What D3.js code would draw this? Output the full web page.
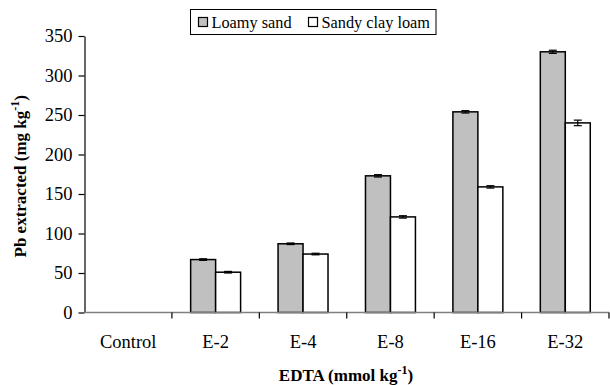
<!DOCTYPE html>
<html>
<head>
<meta charset="utf-8">
<script src="https://cdn.jsdelivr.net/npm/d3@7"></script>
<style>
    body { margin: 0; background: #fff; }
</style>
</head>
<body>
<svg id="main" width="610" height="385"></svg>
<script>
const width = 610;
const height = 385;
const position = {
    left: 84.5,
    top: 36,
    right: 1,
    bottom: 72
};
const FONT = '"Liberation Serif", "Times New Roman", Times, serif';

const categories = ['Control', 'E-2', 'E-4', 'E-8', 'E-16', 'E-32'];
const series = ['Loamy sand', 'Sandy clay loam'];
const loamySand = [0, 67, 87, 173, 254, 330];
const sandyClayLoam = [0, 51, 74, 121, 159, 240];
const loamySandErr = [0, 1, 1, 1.5, 1.5, 2];
const sandyClayLoamErr = [0, 1, 1, 1.5, 1.5, 3.5];
const yTicks = [0, 50, 100, 150, 200, 250, 300, 350];
const fills = ['#c0c0c0', '#ffffff'];

const data = [];
categories.forEach((c, i) => {
    data.push({ cat: c, s: series[0], v: loamySand[i], e: loamySandErr[i] });
    data.push({ cat: c, s: series[1], v: sandyClayLoam[i], e: sandyClayLoamErr[i] });
});

const svg = d3.select('#main').style('font-family', FONT);

const x = d3
    .scaleBand()
    .domain(categories)
    .range([position.left, width - position.right])
    .padding(0);
const xs = d3
    .scaleBand()
    .domain(series)
    .range([0, x.bandwidth()])
    .paddingInner(0)
    .paddingOuter(0.75);
const y = d3
    .scaleLinear()
    .domain([0, 350])
    .range([height - position.bottom - 0.5, position.top]);
const color = d3.scaleOrdinal().domain(series).range(fills);

// bars
svg.append('g')
    .selectAll('rect')
    .data(data.filter(d => d.v > 0))
    .join('rect')
    .attr('x', d => x(d.cat) + xs(d.s))
    .attr('y', d => y(d.v))
    .attr('width', xs.bandwidth())
    .attr('height', d => y(0) - y(d.v))
    .attr('fill', d => color(d.s))
    .attr('stroke', '#000')
    .attr('stroke-width', 1.5);

// error bars
const err = svg.append('g').attr('stroke', '#000').attr('stroke-width', 1.2);
data.filter(d => d.v > 0).forEach(d => {
    const cx = x(d.cat) + xs(d.s) + xs.bandwidth() / 2;
    err.append('line')
        .attr('x1', cx).attr('x2', cx)
        .attr('y1', y(d.v + d.e)).attr('y2', y(d.v - d.e));
    [d.v + d.e, d.v - d.e].forEach(v => {
        err.append('line')
            .attr('x1', cx - 4).attr('x2', cx + 4)
            .attr('y1', y(v)).attr('y2', y(v));
    });
});

// y axis
const yAxis = svg.append('g')
    .attr('transform', `translate(${position.left},0)`)
    .call(d3.axisLeft(y).tickValues(yTicks).tickSize(6).tickSizeOuter(0).tickPadding(6));
yAxis.attr('font-family', null).attr('font-size', null);
yAxis.select('.domain').attr('stroke', '#000').attr('stroke-width', 1.2);
yAxis.selectAll('.tick line').attr('stroke', '#000').attr('stroke-width', 1.2);
yAxis.selectAll('text')
    .style('font-family', FONT)
    .style('font-size', '18.5px')
    .attr('fill', '#000');

// x axis: gray line with ticks between categories
const bounds = categories.map(c => x(c)).concat([x(categories[categories.length - 1]) + x.bandwidth()]);
const xAxis = svg.append('g');
xAxis.append('line')
    .attr('x1', position.left).attr('x2', width - position.right)
    .attr('y1', y(0)).attr('y2', y(0))
    .attr('stroke', '#808080').attr('stroke-width', 1.5);
xAxis.selectAll('.xt')
    .data(bounds.slice(1))
    .join('line')
    .attr('x1', d => d).attr('x2', d => d)
    .attr('y1', y(0)).attr('y2', y(0) + 6)
    .attr('stroke', '#000').attr('stroke-width', 1.2);
xAxis.selectAll('.xl')
    .data(categories)
    .join('text')
    .attr('x', d => x(d) + x.bandwidth() / 2)
    .attr('y', y(0) + 35)
    .attr('text-anchor', 'middle')
    .style('font-family', FONT)
    .style('font-size', '18.5px')
    .text(d => d);

// axis titles
const yTitle = svg.append('text')
    .attr('transform', `translate(26, ${y(175) + 2}) rotate(-90)`)
    .attr('text-anchor', 'middle')
    .style('font-family', FONT)
    .style('font-size', '17px')
    .style('font-weight', 'bold');
yTitle.append('tspan').text('Pb extracted (mg kg');
yTitle.append('tspan').attr('dy', -7).style('font-size', '12px').text('-1');
yTitle.append('tspan').attr('dy', 7).text(')');

const xTitle = svg.append('text')
    .attr('x', 346)
    .attr('y', 381)
    .attr('text-anchor', 'middle')
    .style('font-family', FONT)
    .style('font-size', '17px')
    .style('font-weight', 'bold');
xTitle.append('tspan').text('EDTA (mmol kg');
xTitle.append('tspan').attr('dy', -7).style('font-size', '12px').text('-1');
xTitle.append('tspan').attr('dy', 7).text(')');

// legend
const legend = svg.append('g');
legend.append('rect')
    .attr('x', 190.5).attr('y', 9.5)
    .attr('width', 245.5).attr('height', 25)
    .attr('fill', '#fff').attr('stroke', '#000').attr('stroke-width', 1);
const legendX = [198.5, 308.5];
series.forEach((s, i) => {
    legend.append('rect')
        .attr('x', legendX[i]).attr('y', 17.5)
        .attr('width', 9).attr('height', 9)
        .attr('fill', color(s)).attr('stroke', '#000').attr('stroke-width', 1.2);
    legend.append('text')
        .attr('x', legendX[i] + 13).attr('y', 27.5)
        .style('font-family', FONT)
        .style('font-size', '16.3px')
        .text(s);
});
</script>
</body>
</html>
